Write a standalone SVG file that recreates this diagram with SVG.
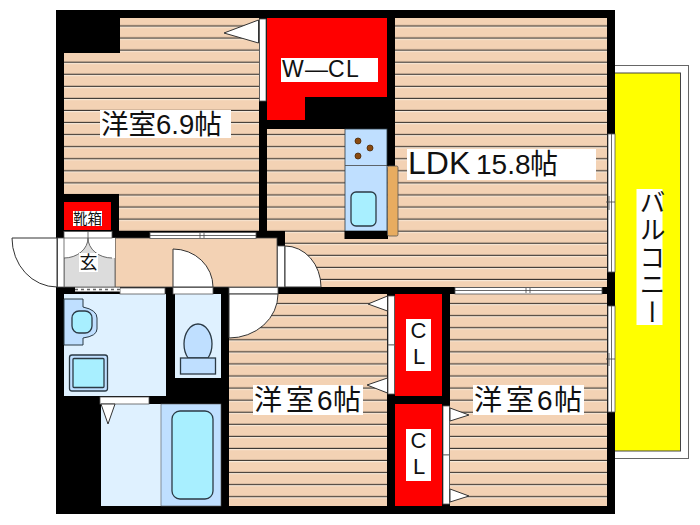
<svg xmlns="http://www.w3.org/2000/svg" width="700" height="525" viewBox="0 0 700 525">
<style>
.t{font-family:"Liberation Sans","Noto Sans CJK JP",sans-serif;fill:#111}
.l{fill:#fff}
.o{stroke:#2b3a45;stroke-width:1.3}
.s{fill:#fff;stroke:#555;stroke-width:.8}
.d{fill:#fff;stroke:#333;stroke-width:1}
.w{fill:#dff1ff}
.b{fill:#bfdfff}
.c{fill:#a8efff}
.r{fill:#ff0000}
.m{fill:none;stroke:#444;stroke-width:.8}
.u{fill:#8a4a10;stroke:#4a2a08;stroke-width:.8}
</style>
<defs>
<pattern id="fl" patternUnits="userSpaceOnUse" x="0" y="20" width="20" height="12.07">
<rect width="20" height="12.07" fill="#f3d2b4"/>
<rect y="5.4" width="20" height="1.2" fill="#3a3530"/>
<rect y="6.6" width="20" height="1" fill="#fbeee0"/>
</pattern>
</defs>
<g id="balcony">
<rect x="600" y="65.5" width="88.5" height="393" fill="#fff" stroke="#666" stroke-width="1"/>
<rect x="600" y="73" width="80.5" height="378" fill="#ffff00" stroke="#444" stroke-width="1"/>
</g>
<rect id="walls" x="56" y="10" width="559" height="504" fill="#000"/>
<g id="room-west">
<path d="M120 18H259V231H119V194H64V53H120Z" fill="url(#fl)"/>
<path d="M224 33L258.500 20V43Z" class="d"/>
<rect x="259.500" y="19" width="6.500" height="82" class="s"/>
</g>
<g id="ldk">
<path d="M267 129H394.500V18H607V287H285V239H267Z" fill="url(#fl)"/>
<rect x="256" y="231" width="29" height="8" fill="#000"/>
<rect x="277" y="238" width="8" height="8" fill="#000"/>
<rect x="305" y="97" width="90" height="32" fill="#000"/>
<rect x="387" y="18" width="8" height="148" fill="#000"/>
</g>
<g id="kitchen">
<rect x="345" y="129" width="42" height="102" class="b" stroke="#2b3a45" stroke-width=".8"/>
<path d="M345 165.500H387" class="m"/>
<rect x="344.500" y="231" width="43.500" height="8" fill="#000"/>
<rect x="387.500" y="166" width="10.500" height="70" rx="1.500" fill="#e8ac60" stroke="#555" stroke-width=".8"/>
<rect x="351" y="192" width="25" height="34" rx="5" class="c o"/>
<circle cx="358" cy="141" r="3" class="u"/>
<circle cx="370" cy="148" r="3" class="u"/>
<circle cx="358" cy="156" r="3" class="u"/>
</g>
<g id="w-cl">
<path d="M267 18H387V97H305V120H267Z" class="r"/>
<rect x="281" y="58" width="97" height="24" class="l"/>
<text class="t" y="77" font-size="23" x="282 305 328 346">W—CL</text>
</g>
<g id="shoe-box">
<rect x="64" y="202" width="47" height="28" class="r"/>
<rect x="73" y="211" width="29" height="15" class="l"/>
<text class="t" x="73" y="224" font-size="14.500">靴箱</text>
</g>
<g id="hall">
<rect x="115" y="238" width="162" height="49" fill="#f3d2b4" stroke="#444" stroke-width=".8"/>
<rect x="150" y="232.500" width="106" height="6" class="s"/>
<path d="M150 235.500H256M200 233V238M204 233V238" class="m"/>
<path d="M173 287V249A40 38 0 0 1 213 287Z" class="d"/>
<path d="M285 287V246A36 41 0 0 1 321 287Z" class="d"/>
<rect x="277.500" y="246" width="7" height="41" class="s"/>
</g>
<g id="entrance">
<rect x="64" y="238" width="51" height="49" fill="#dcdcdc" stroke="#555" stroke-width=".8"/>
<path d="M64 238H115V258H112A24 20 0 0 1 88 238A24 20 0 0 1 64 258Z" fill="#fff"/>
<path d="M64 258A24 20 0 0 0 88 238A24 20 0 0 0 112 258" class="m" stroke-width="1"/>
<rect x="64" y="231.500" width="48" height="6.500" class="s"/>
<path d="M88 231.500V238" class="m"/>
<rect x="57.500" y="238" width="6.500" height="49" class="s"/>
<path d="M57 287A45 49 0 0 1 12 238H57Z" fill="#fff" stroke="#333" stroke-width="1"/>
<rect x="79" y="253" width="19" height="19" class="l"/>
<text class="t" x="79.500" y="269" font-size="18">玄</text>
</g>
<g id="washroom">
<rect x="64" y="294" width="102" height="102" class="w"/>
<rect x="120" y="288" width="45" height="6" class="s"/>
<rect x="75" y="287.500" width="45" height="4" fill="#fff"/>
<path d="M75 289.500H120" fill="none" stroke="#666" stroke-width="1.500" stroke-dasharray="3 3"/>
<path d="M64 299H83V307Q97 310 97 318V329Q97 336 83 338V345H64Z" class="b" stroke="#2b3a45" stroke-width="1"/>
<rect x="72" y="311" width="20" height="22" rx="7" class="c o"/>
<rect x="69.500" y="355" width="38" height="36" rx="2.500" class="b o"/>
<rect x="73" y="358.500" width="31" height="29" rx="1" class="c o"/>
</g>
<g id="toilet">
<rect x="175" y="294" width="46" height="84" class="w"/>
<rect x="173" y="287.500" width="40" height="6.500" class="s"/>
<path d="M188 358A14 20 0 1 1 208 358Z" class="b o"/>
<rect x="180.500" y="358" width="35" height="16" class="b o"/>
</g>
<g id="bath">
<rect x="101" y="404" width="60" height="102" class="w"/>
<rect x="161" y="404" width="60" height="102" class="b" stroke="#555" stroke-width=".6"/>
<rect x="172" y="411" width="41" height="88" rx="8" class="c o"/>
<rect x="100" y="397" width="49" height="7" class="s"/>
<path d="M101 404H115L108 424Z" class="d"/>
</g>
<g id="room-south-west">
<rect x="229" y="294" width="158" height="212" fill="url(#fl)"/>
<rect x="229" y="287.500" width="49" height="6.500" class="s"/>
<path d="M229 294H278A49 44 0 0 1 229 338Z" class="d"/>
<rect x="388" y="296" width="6.500" height="49" class="s"/>
<rect x="388" y="345" width="6.500" height="49" class="s"/>
<path d="M368 304L387.500 296V311Z" class="d"/>
<path d="M367 385L387.500 378V393Z" class="d"/>
<rect x="253" y="385" width="110" height="30" class="l"/>
<text class="t" y="410" font-size="28" x="254 286 317 333">洋室6帖</text>
</g>
<g id="cl-upper">
<rect x="395" y="294" width="47" height="102" class="r"/>
<rect x="406" y="319" width="25" height="52" class="l"/>
<text class="t" x="418.500" y="338" font-size="22" text-anchor="middle">C</text>
<text class="t" x="419" y="364" font-size="22" text-anchor="middle">L</text>
</g>
<g id="cl-lower">
<rect x="395" y="404" width="47" height="102" class="r"/>
<rect x="406" y="429" width="25" height="52" class="l"/>
<text class="t" x="418.500" y="448" font-size="22" text-anchor="middle">C</text>
<text class="t" x="419" y="474" font-size="22" text-anchor="middle">L</text>
</g>
<g id="room-south-east">
<rect x="450" y="294" width="157" height="212" fill="url(#fl)"/>
<rect x="443" y="406" width="6.500" height="49" class="s"/>
<rect x="443" y="455" width="6.500" height="49" class="s"/>
<path d="M450 408L469 415L450 421Z" class="d"/>
<path d="M450 489L469 496L450 502Z" class="d"/>
<rect x="455" y="287.500" width="147" height="6.500" class="s"/>
<path d="M455 290.500H602M526 288V293M530 288V293" class="m"/>
<rect x="473" y="385" width="111" height="30" class="l"/>
<text class="t" y="410" font-size="28" x="474 506 537 554">洋室6帖</text>
</g>
<g id="windows">
<rect x="608" y="134" width="7" height="138" class="s"/>
<path d="M611.500 134V272M606 202H615M609 196V210" class="m"/>
<rect x="608" y="306" width="7" height="106" class="s"/>
<path d="M611.500 306V412M606 359H615M609 353V366" class="m"/>
</g>
<g id="labels">
<rect x="100" y="110" width="131" height="28" class="l"/>
<text class="t" x="101" y="134" font-size="27.500">洋室6.9帖</text>
<rect x="407" y="149" width="189" height="31" class="l"/>
<text class="t" y="174" font-size="28"><tspan x="408" font-size="32">LDK</tspan><tspan x="476">15.8</tspan><tspan x="530">帖</tspan></text>
<rect x="636.500" y="189" width="26" height="136" class="l"/>
<text class="t" x="650" y="189" font-size="26" style="writing-mode:vertical-rl" letter-spacing="1.500">バルコニー</text>
</g>
</svg>
